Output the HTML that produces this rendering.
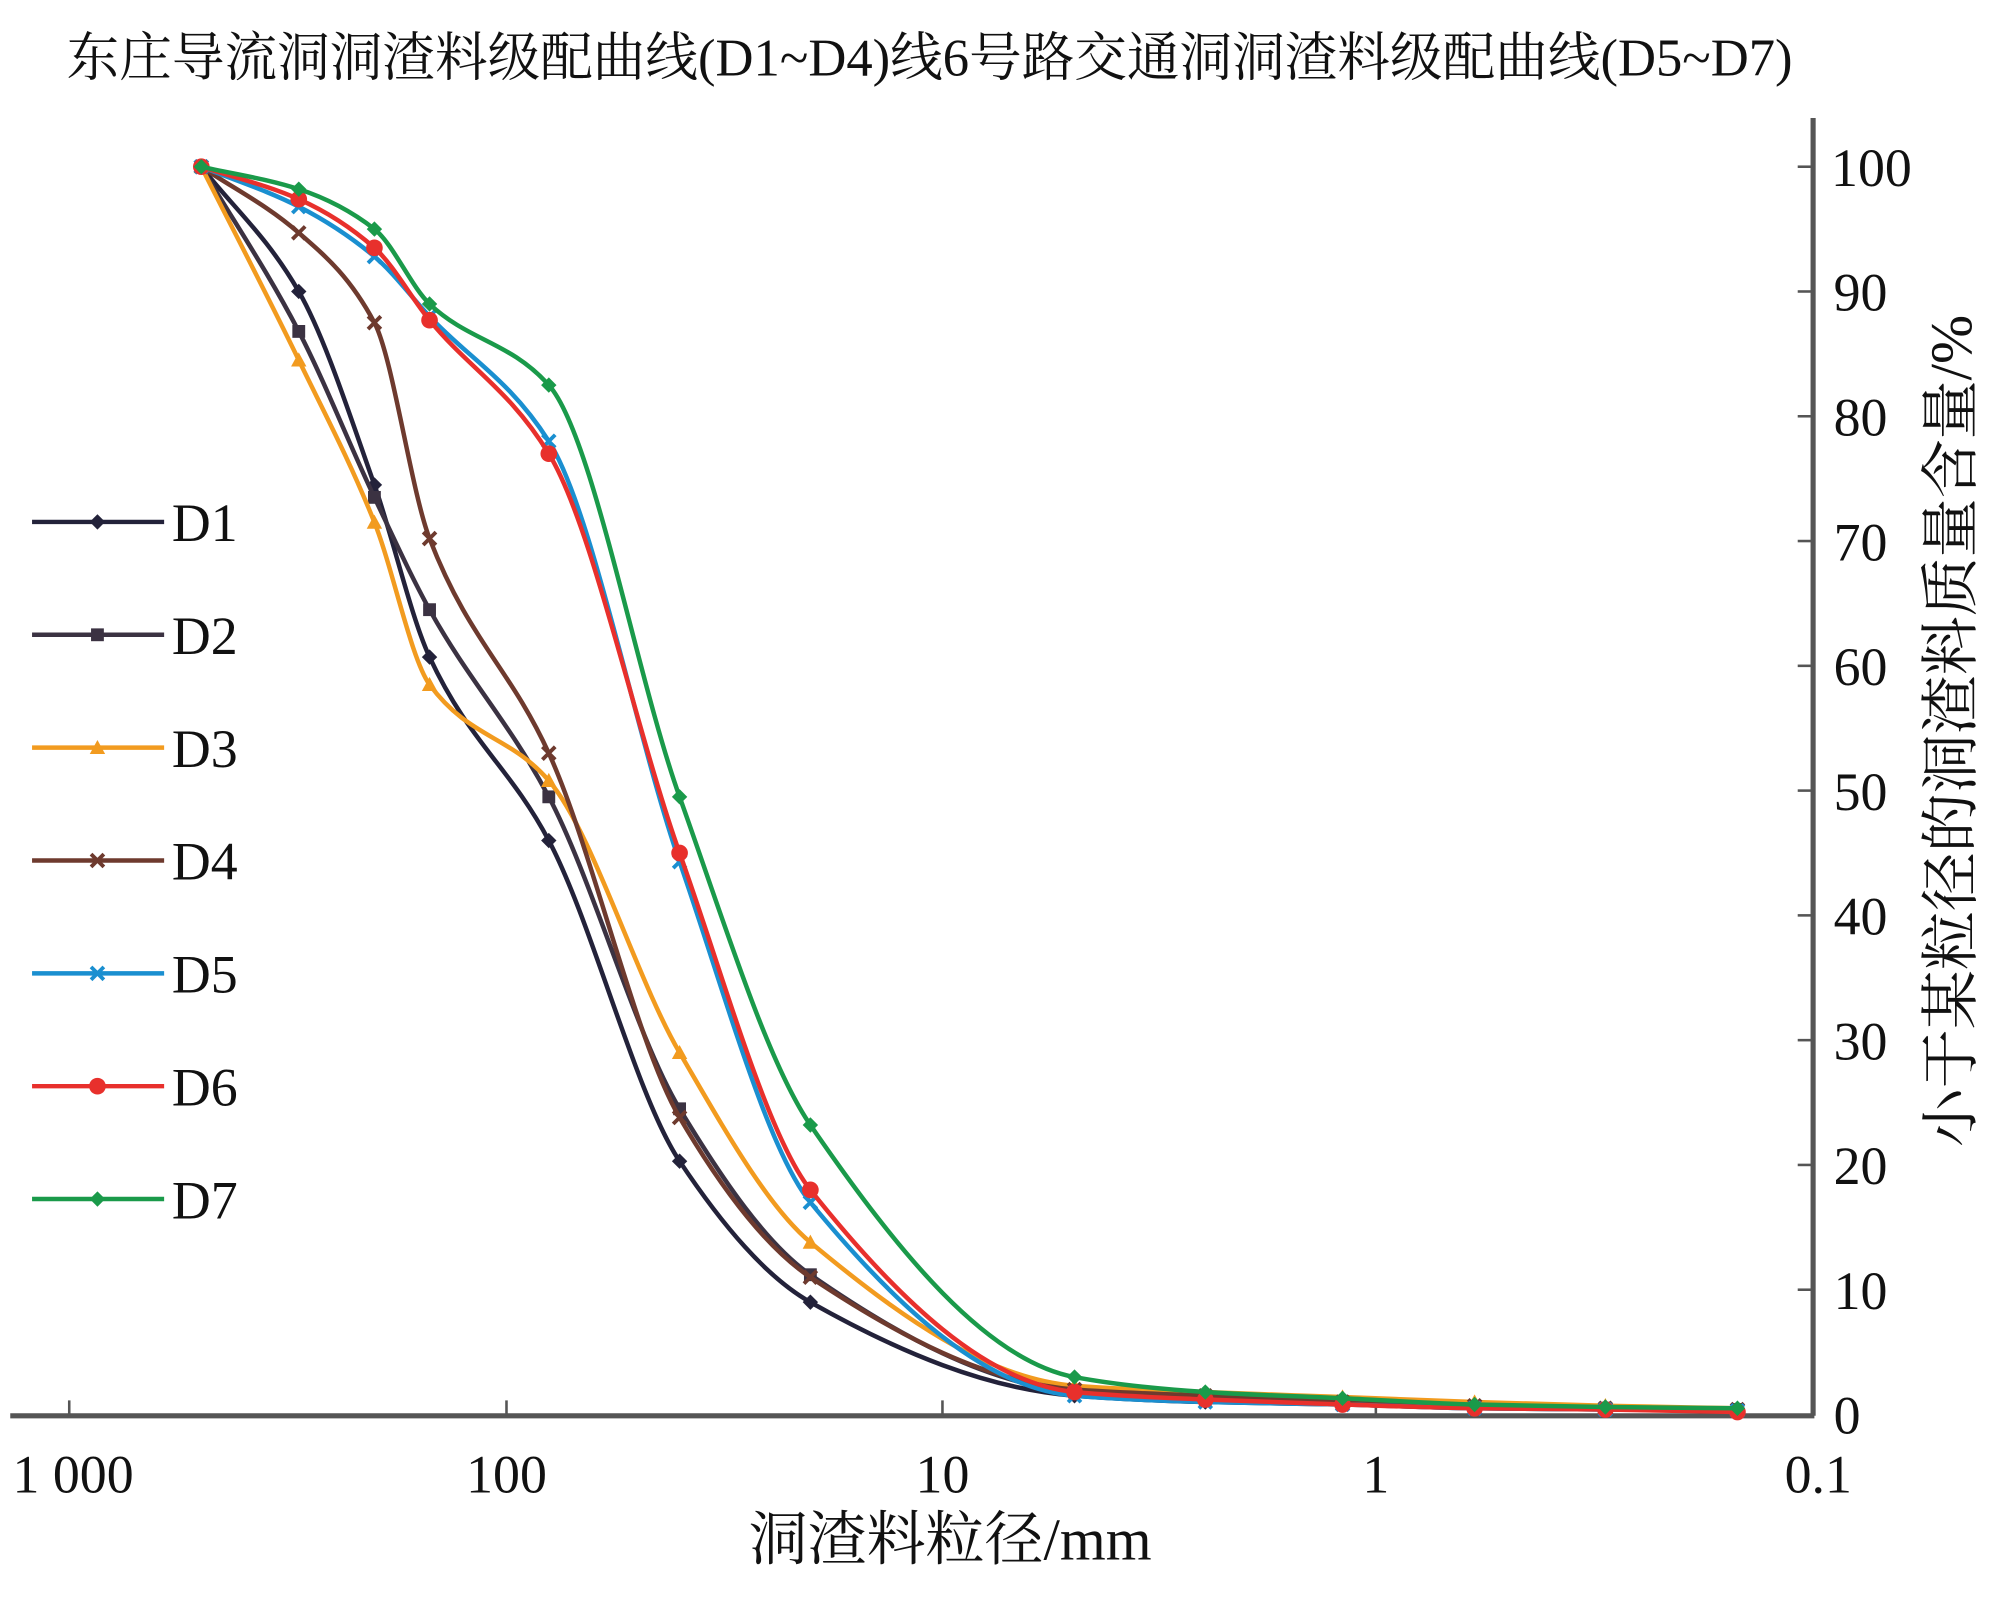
<!DOCTYPE html>
<html><head><meta charset="utf-8">
<style>
html,body{margin:0;padding:0;background:#fff;}
svg{display:block;}
text{font-family:"Liberation Serif","Noto Serif CJK SC","Noto Sans CJK SC",serif;fill:#111;}
</style></head>
<body>
<svg id="c" width="2008" height="1603" viewBox="0 0 1566 1250" preserveAspectRatio="none" xmlns="http://www.w3.org/2000/svg">
<text x="52" y="59" font-size="41" textLength="1346" lengthAdjust="spacingAndGlyphs">东庄导流洞洞渣料级配曲线(D1~D4)线6号路交通洞洞渣料级配曲线(D5~D7)</text>
<g stroke="#555" stroke-width="4" fill="none">
<line x1="8" y1="1104" x2="1415" y2="1104"/>
<line x1="1414" y1="92" x2="1414" y2="1104"/>
</g>
<g stroke="#555" stroke-width="2">
<line x1="54" y1="1092" x2="54" y2="1104"/>
<line x1="395" y1="1092" x2="395" y2="1104"/>
<line x1="735" y1="1092" x2="735" y2="1104"/>
<line x1="1073" y1="1092" x2="1073" y2="1104"/>
<g id="yt"></g>
</g>
<g font-size="42" text-anchor="middle">
<text x="57" y="1164">1 000</text>
<text x="395" y="1164">100</text>
<text x="735" y="1164">10</text>
<text x="1073" y="1164">1</text>
<text x="1418" y="1164">0.1</text>
</g>
<text x="741" y="1216" font-size="46" text-anchor="middle">洞渣料粒径/mm</text>
<g id="yl" font-size="42"></g>
<text transform="translate(1537,570) rotate(-90)" font-size="46" text-anchor="middle">小于某粒径的洞渣料质量含量/%</text>
<g id="series"></g>
<g id="legend" font-size="42"></g>
</svg>
<script>
var NS="http://www.w3.org/2000/svg";
function el(t,a,p){var e=document.createElementNS(NS,t);for(var k in a)e.setAttribute(k,a[k]);p.appendChild(e);return e;}
var yt=document.getElementById('yt'),yl=document.getElementById('yl');
function Y(v){return 1103-v*9.73;}
for(var v=0;v<=100;v+=10){var y=Y(v);
 if(v>0)el('line',{x1:1402,y1:y,x2:1414,y2:y},yt);
 var t=el('text',{x:(v==100?1428:1430),y:y+15},yl);t.textContent=v;}
var X=[157,233,292,335,428,530,632,838,940,1047,1150,1252,1355];
var S=[
 ["D1","#23223a","d",[100,90,74.5,60.7,46,20.3,9,1.5,1,0.8,0.5,0.4,0.3]],
 ["D2","#3b3242","s",[100,86.8,73.5,64.5,49.5,24.5,11.2,1.8,1.2,0.9,0.6,0.5,0.4]],
 ["D3","#f29b1f","t",[100,84.5,71.5,58.5,50.8,29,13.8,2.3,1.8,1.4,1.0,0.7,0.5]],
 ["D4","#6e3a2e","x",[100,94.7,87.5,70.2,53,23.8,11,2,1.5,1,0.7,0.5,0.4]],
 ["D5","#1a8fd0","x",[100,96.8,92.8,88,78,44.3,17,1.5,1,0.8,0.5,0.4,0.3]],
 ["D6","#e8302c","c",[100,97.4,93.5,87.7,77,45,18,1.8,1.2,0.8,0.5,0.4,0.2]],
 ["D7","#1a9a4a","d",[100,98.2,95,89,82.5,49.5,23.2,3,1.8,1.3,0.8,0.6,0.5]]
];
var g=document.getElementById('series'),lg=document.getElementById('legend');
function marker(type,x,y,c,p){
 if(type=="d")el('polygon',{points:(x)+","+(y-6)+" "+(x+6)+","+y+" "+x+","+(y+6)+" "+(x-6)+","+y,fill:c},p);
 else if(type=="s")el('rect',{x:x-5,y:y-5,width:10,height:10,fill:c},p);
 else if(type=="t")el('polygon',{points:x+","+(y-6)+" "+(x+6)+","+(y+5)+" "+(x-6)+","+(y+5),fill:c},p);
 else if(type=="x"){el('path',{d:"M"+(x-5)+" "+(y-5)+"L"+(x+5)+" "+(y+5)+"M"+(x+5)+" "+(y-5)+"L"+(x-5)+" "+(y+5),stroke:c,"stroke-width":3},p);}
 else el('circle',{cx:x,cy:y,r:6.5,fill:c},p);
}
function monotone(P){
 var n=P.length,dx=[],m=[],t=[];
 for(var i=0;i<n-1;i++){dx[i]=P[i+1][0]-P[i][0];m[i]=(P[i+1][1]-P[i][1])/dx[i];}
 t[0]=m[0];t[n-1]=m[n-2];
 for(var i=1;i<n-1;i++){
  if(m[i-1]*m[i]<=0)t[i]=0;
  else{var w1=2*dx[i]+dx[i-1],w2=dx[i]+2*dx[i-1];t[i]=(w1+w2)/(w1/m[i-1]+w2/m[i]);}
 }
 var d="M"+P[0][0]+" "+P[0][1];
 for(var i=0;i<n-1;i++){
  var h=dx[i]/3;
  d+="C"+(P[i][0]+h)+" "+(P[i][1]+t[i]*h)+" "+(P[i+1][0]-h)+" "+(P[i+1][1]-t[i+1]*h)+" "+P[i+1][0]+" "+P[i+1][1];
 }
 return d;
}
S.forEach(function(s,i){
 var P=X.map(function(x,j){return [x,Y(s[3][j])];});
 el('path',{d:monotone(P),fill:"none",stroke:s[1],"stroke-width":3.5},g);
 P.forEach(function(p){marker(s[2],p[0],p[1],s[1],g);});
 var ly=407+i*88;
 el('line',{x1:25,y1:ly,x2:128,y2:ly,stroke:s[1],"stroke-width":3.5},lg);
 marker(s[2],76,ly,s[1],lg);
 var t=el('text',{x:134,y:ly+15},lg);t.textContent=s[0];
});
</script>
</body></html>
